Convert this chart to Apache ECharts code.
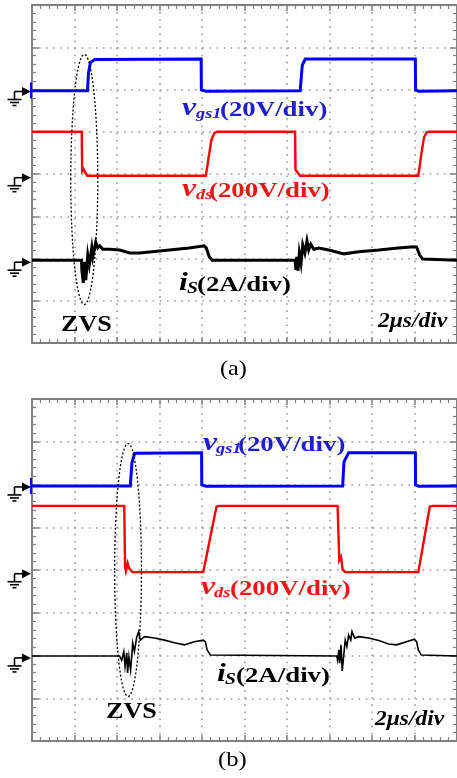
<!DOCTYPE html>
<html><head><meta charset="utf-8">
<script src="https://cdn.jsdelivr.net/npm/echarts@6/dist/echarts.min.js"></script>
<style>html,body{margin:0;padding:0;background:#fff}#c{width:457px;height:778px}</style>
</head><body><div id="c"></div>
<script>
// All values in oscilloscope divisions: x 0..10 (2 us/div), y 0..8 from bottom
const xDivs = [0, 10];
const yDivs = [0, 8];

// Panel (a)
const vgsA = [[0,5.97],[1.305,5.97],[1.33,6.4],[1.376,6.64],[1.476,6.71],[3.98,6.72],[3.985,5.99],[4.1,5.96],[6.31,5.97],[6.36,6.58],[6.43,6.72],[9.02,6.72],[9.025,5.99],[9.1,5.96],[10,5.97]];
const vdsA = [[0,5.0],[1.17,5.0],[1.18,4.07],[1.21,4.12],[1.25,4.04],[1.30,3.96],[4.09,3.96],[4.15,4.35],[4.22,4.8],[4.29,4.97],[4.35,5.0],[6.19,5.0],[6.20,4.10],[6.24,4.08],[6.31,3.96],[9.09,3.96],[9.15,4.4],[9.22,4.85],[9.28,4.98],[9.34,5.0],[10,5.0]];
const isA = [[0,1.96],[1.165,1.96],[1.172,1.73],[1.207,1.42],[1.242,1.92],[1.266,1.49],[1.312,2.08],[1.348,1.85],[1.406,2.25],[1.43,2.04],[1.50,2.39],[1.547,2.25],[1.594,2.30],[1.664,2.22],[1.828,2.22],[2.06,2.20],[2.30,2.13],[2.53,2.13],[3.0,2.18],[3.70,2.25],[4.05,2.30],[4.10,2.25],[4.17,2.04],[4.24,1.96],
  [6.19,1.96],[6.21,1.73],[6.23,2.04],[6.26,1.71],[6.29,2.13],[6.33,1.89],[6.37,2.32],[6.42,2.13],[6.47,2.42],[6.51,2.20],[6.56,2.34],[6.63,2.22],[6.75,2.25],[6.98,2.20],[7.34,2.11],[7.69,2.16],[8.16,2.20],[8.62,2.25],[8.98,2.28],[9.05,2.27],[9.12,2.08],[9.19,1.99],[10,1.96]];

// Panel (b)
const vgsB = [[0,5.965],[2.313,5.965],[2.35,6.50],[2.414,6.73],[3.99,6.74],[3.995,5.99],[4.1,5.96],[7.31,5.965],[7.34,6.53],[7.45,6.74],[9.02,6.74],[9.025,5.99],[9.1,5.96],[10,5.965]];
const vdsB = [[0,5.50],[2.17,5.50],[2.19,4.09],[2.21,3.98],[2.25,4.16],[2.28,4.05],[2.36,3.95],[4.03,3.95],[4.34,5.48],[4.40,5.50],[7.19,5.50],[7.23,4.23],[7.27,4.31],[7.31,4.00],[7.37,3.95],[9.09,3.95],[9.36,5.48],[9.42,5.50],[10,5.50]];
const isB = [[0,1.99],[2.06,1.99],[2.11,1.89],[2.16,2.09],[2.19,1.74],[2.23,2.06],[2.25,1.59],[2.28,1.97],[2.32,1.66],[2.37,2.29],[2.41,2.09],[2.46,2.41],[2.51,2.56],[2.55,2.36],[2.65,2.44],[2.88,2.41],[3.12,2.36],[3.35,2.30],[3.59,2.25],[3.82,2.32],[4.03,2.36],[4.08,2.32],[4.12,2.13],[4.20,2.01],
  [7.17,1.99],[7.19,1.89],[7.22,2.13],[7.24,1.82],[7.27,2.25],[7.30,1.64],[7.34,2.06],[7.37,2.36],[7.41,2.21],[7.45,2.48],[7.50,2.36],[7.53,2.56],[7.59,2.41],[7.69,2.44],[7.92,2.41],[8.16,2.35],[8.39,2.27],[8.58,2.25],[8.81,2.32],[9.00,2.38],[9.05,2.32],[9.09,2.13],[9.16,2.01],[10,1.99]];

// channel ground reference levels (div)
const gndA = [6.0, 3.96, 1.96];
const gndB = [5.99, 3.96, 1.99];

const GRAY = '#808080';
function xAx(g, pos, split) {
  return {type:'value', gridIndex:g, position:pos, min:xDivs[0], max:xDivs[1], interval:1,
    axisLine:{show:true, onZero:false, lineStyle:{color:GRAY, width:2}},
    axisTick:{show:true, inside:true, length:6, lineStyle:{color:GRAY, width:1.5}},
    minorTick:{show:true, splitNumber:5, length:4, lineStyle:{color:GRAY, width:1.2}},
    axisLabel:{show:false},
    splitLine:{show:split, lineStyle:{color:'#999', width:1.6, type:[1.6,5.5]}}};
}
function yAx(g, pos, split) {
  return {type:'value', gridIndex:g, position:pos, min:yDivs[0], max:yDivs[1], interval:1,
    axisLine:{show:true, onZero:false, lineStyle:{color:GRAY, width:2}},
    axisTick:{show:true, inside:true, length:7, lineStyle:{color:GRAY, width:1.5}},
    minorTick:{show:true, splitNumber:5, length:4, lineStyle:{color:GRAY, width:1.2}},
    axisLabel:{show:false},
    splitLine:{show:split, lineStyle:{color:'#999', width:1.6, type:[1.6,5.5]}}};
}
function ser(data, xi, yi, color, w) {
  return {type:'line', xAxisIndex:xi, yAxisIndex:yi, data:data, showSymbol:false, symbol:'none',
    silent:true, animation:false, lineStyle:{color:color, width:w, join:'miter'}, z:3};
}

const chart = echarts.init(document.getElementById('c'), null, {renderer:'canvas'});
chart.setOption({
  animation:false,
  backgroundColor:'#fff',
  grid:[{left:32, top:5, width:426.7, height:338},
        {left:32, top:399, width:426.7, height:342}],
  xAxis:[xAx(0,'bottom',true), xAx(0,'top',false), xAx(1,'bottom',true), xAx(1,'top',false)],
  yAxis:[yAx(0,'left',true), yAx(0,'right',false), yAx(1,'left',true), yAx(1,'right',false)],
  series:[
    ser(vgsA,0,0,'#0000ff',3), ser(vdsA,0,0,'#ff0000',2.4), ser(isA,0,0,'#000',3),
    ser(vgsB,2,2,'#0000ff',3), ser(vdsB,2,2,'#ff0000',2.4), ser(isB,2,2,'#000',1.6)
  ]
});

const SERIF = '"Liberation Serif","Times New Roman",serif';
function txt(s, x, y, size, color, opts) {
  opts = opts || {};
  return {type:'text', x:x, y:y, scaleX:opts.sx || 1.22, z:10,
    style:{text:s, fill:color, fontFamily:SERIF, fontSize:size,
      fontWeight:opts.w || 'bold', fontStyle:opts.it ? 'italic' : 'normal',
      align:'left', verticalAlign:'middle'}};
}
function groundMarker(g, level) {
  const p = chart.convertToPixel({gridIndex:g}, [0, level]);
  const x0 = p[0], y = p[1] + 2, gx = x0 - 17.5;
  const st = {stroke:'#000', lineWidth:1.6};
  return [
    {type:'line', z:10, shape:{x1:gx, y1:y, x2:x0-8, y2:y}, style:st},
    {type:'polygon', z:10, shape:{points:[[x0-10,y-4.5],[x0-1,y],[x0-10,y+4.5]]}, style:{fill:'#000'}},
    {type:'line', z:10, shape:{x1:gx, y1:y, x2:gx, y2:y+8}, style:st},
    {type:'line', z:10, shape:{x1:gx-7, y1:y+8, x2:gx+7, y2:y+8}, style:st},
    {type:'line', z:10, shape:{x1:gx-4.5, y1:y+11, x2:gx+4.5, y2:y+11}, style:st},
    {type:'line', z:10, shape:{x1:gx-2, y1:y+14, x2:gx+2, y2:y+14}, style:st}
  ];
}
function chanMark(g, level) {
  const p = chart.convertToPixel({gridIndex:g}, [0, level]);
  return {type:'line', z:9, shape:{x1:p[0]-1, y1:p[1]-7, x2:p[0]-1, y2:p[1]+9}, style:{stroke:'#0000ff', lineWidth:2}};
}
function ell(g, cx, cy, rxPx, ryPx) {
  const p = chart.convertToPixel({gridIndex:g}, [cx, cy]);
  return {type:'ellipse', z:8, shape:{cx:p[0], cy:p[1], rx:rxPx, ry:ryPx},
    style:{fill:'none', stroke:'#000', lineWidth:1.3, lineDash:[2,2]}};
}

const BLUE_T = '#2020c8', RED_T = '#f01515';
let els = [];
gndA.forEach(l => { els = els.concat(groundMarker(0, l)); });
gndB.forEach(l => { els = els.concat(groundMarker(1, l)); });
els.push(chanMark(0, gndA[0]), chanMark(1, gndB[0]));
els.push(ell(0, 1.23, 3.87, 13.5, 125), ell(1, 2.26, 4.0, 13.4, 126.5));
els.push(
  // panel (a)
  txt('v', 182, 108.2, 26, BLUE_T, {it:true}), txt('gs1', 196, 113.9, 15, BLUE_T, {it:true}), txt('(20V/div)', 220, 109.9, 22, BLUE_T),
  txt('v', 182, 189.7, 26, RED_T, {it:true}), txt('ds', 196, 195.4, 15, RED_T, {it:true}), txt('(200V/div)', 209, 191.4, 22, RED_T),
  txt('i', 179, 283.2, 26, '#000', {it:true}), txt('S', 187, 288.5, 16, '#000', {it:true}), txt('(2A/div)', 197, 284.9, 22, '#000'),
  txt('ZVS', 61, 324.8, 24, '#000', {sx:1.09}),
  txt('2μs/div', 378, 321.9, 21, '#000', {it:true, sx:1.12}),
  txt('(a)', 220, 369, 22, '#000', {w:'normal', sx:1.1}),
  // panel (b)
  txt('v', 203, 443.2, 26, BLUE_T, {it:true}), txt('gs1', 216, 448.9, 15, BLUE_T, {it:true}), txt('(20V/div)', 238, 444.9, 22, BLUE_T),
  txt('v', 201, 587.2, 26, RED_T, {it:true}), txt('ds', 214, 592.9, 15, RED_T, {it:true}), txt('(200V/div)', 230, 588.9, 22, RED_T),
  txt('i', 217, 674.2, 26, '#000', {it:true}), txt('S', 225, 679.5, 16, '#000', {it:true}), txt('(2A/div)', 236, 675.9, 22, '#000'),
  txt('ZVS', 106, 711.5, 24, '#000', {sx:1.09}),
  txt('2μs/div', 375, 719.9, 21, '#000', {it:true, sx:1.12}),
  txt('(b)', 218, 760, 22, '#000', {w:'normal', sx:1.12})
);
chart.setOption({graphic:{elements:els}});
</script></body></html>
